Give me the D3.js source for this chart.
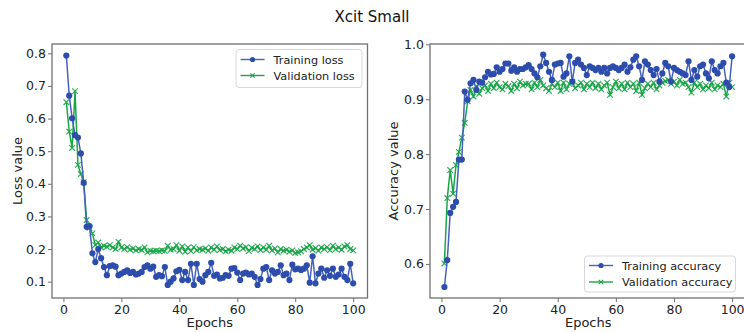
<!DOCTYPE html>
<html>
<head>
<meta charset="utf-8">
<script src="https://cdn.jsdelivr.net/npm/d3@7"></script>
<style>
  html, body { margin: 0; padding: 0; background: #fff; }
  svg { display: block; font-family: "DejaVu Sans", sans-serif; }
</style>
</head>
<body>
<svg id="chart" width="744" height="332"></svg>
<script>
// ---------------- data ----------------
const epochs = d3.range(1, 101);

const trainLoss = [
  0.793, 0.670, 0.601, 0.549, 0.542, 0.493, 0.403, 0.268, 0.270, 0.187,
  0.160, 0.200, 0.172, 0.145, 0.120, 0.148, 0.150, 0.146, 0.120, 0.125,
  0.130, 0.135, 0.127, 0.130, 0.122, 0.125, 0.130, 0.145, 0.150, 0.140,
  0.146, 0.115, 0.120, 0.117, 0.145, 0.090, 0.100, 0.110, 0.132, 0.136,
  0.105, 0.130, 0.105, 0.155, 0.090, 0.155, 0.108, 0.100, 0.120, 0.130,
  0.158, 0.118, 0.122, 0.110, 0.112, 0.120, 0.118, 0.140, 0.142, 0.128,
  0.105, 0.125, 0.128, 0.122, 0.125, 0.115, 0.090, 0.108, 0.140, 0.145,
  0.105, 0.135, 0.125, 0.130, 0.150, 0.120, 0.125, 0.105, 0.152, 0.138,
  0.140, 0.136, 0.140, 0.150, 0.097, 0.178, 0.095, 0.125, 0.140, 0.112,
  0.135, 0.118, 0.140, 0.115, 0.122, 0.140, 0.115, 0.105, 0.155, 0.095
];

const valLoss = [
  0.650, 0.560, 0.510, 0.684, 0.458, 0.430, 0.405, 0.289, 0.265, 0.248,
  0.212, 0.220, 0.205, 0.210, 0.207, 0.212, 0.205, 0.200, 0.222, 0.205,
  0.200, 0.206, 0.198, 0.202, 0.196, 0.200, 0.197, 0.205, 0.190, 0.195,
  0.193, 0.195, 0.194, 0.196, 0.194, 0.210, 0.198, 0.200, 0.212, 0.195,
  0.208, 0.192, 0.205, 0.194, 0.206, 0.196, 0.200, 0.198, 0.202, 0.195,
  0.205, 0.198, 0.208, 0.197, 0.200, 0.193, 0.198, 0.195, 0.205, 0.200,
  0.210, 0.202, 0.206, 0.194, 0.204, 0.200, 0.208, 0.197, 0.205, 0.198,
  0.210, 0.196, 0.202, 0.190, 0.200, 0.195, 0.198, 0.192, 0.196, 0.188,
  0.190, 0.193, 0.200, 0.205, 0.212, 0.198, 0.203, 0.195, 0.205, 0.200,
  0.206, 0.197, 0.210, 0.200, 0.205, 0.198, 0.208, 0.212, 0.200, 0.196
];

const trainAcc = [
  0.558, 0.607, 0.693, 0.704, 0.713, 0.790, 0.790, 0.914, 0.899, 0.929,
  0.935, 0.917, 0.932, 0.930, 0.940, 0.950, 0.945, 0.946, 0.958, 0.950,
  0.955, 0.965, 0.965, 0.952, 0.958, 0.950, 0.955, 0.955, 0.958, 0.962,
  0.955, 0.947, 0.940, 0.960, 0.981, 0.966, 0.950, 0.935, 0.963, 0.965,
  0.966, 0.941, 0.947, 0.978, 0.932, 0.966, 0.972, 0.963, 0.957, 0.944,
  0.960, 0.957, 0.953, 0.957, 0.950, 0.957, 0.947, 0.957, 0.960, 0.957,
  0.953, 0.957, 0.963, 0.950, 0.958, 0.972, 0.978, 0.960, 0.935, 0.969,
  0.963, 0.953, 0.944, 0.955, 0.932, 0.947, 0.966, 0.960, 0.932, 0.957,
  0.953, 0.950, 0.947, 0.944, 0.969, 0.935, 0.953, 0.941, 0.960, 0.963,
  0.947, 0.938, 0.969, 0.953, 0.947, 0.960, 0.966, 0.930, 0.922, 0.978
];

const valAcc = [
  0.601, 0.720, 0.771, 0.728, 0.780, 0.804, 0.830, 0.857, 0.896, 0.917,
  0.905, 0.923, 0.910, 0.920, 0.925, 0.915, 0.928, 0.920, 0.930, 0.922,
  0.918, 0.928, 0.924, 0.915, 0.928, 0.920, 0.932, 0.925, 0.928, 0.928,
  0.918, 0.930, 0.922, 0.935, 0.925, 0.920, 0.915, 0.928, 0.922, 0.930,
  0.915, 0.930, 0.918, 0.928, 0.932, 0.920, 0.925, 0.930, 0.918, 0.928,
  0.922, 0.930, 0.920, 0.928, 0.918, 0.925, 0.930, 0.908, 0.922, 0.932,
  0.920, 0.928, 0.918, 0.930, 0.922, 0.928, 0.915, 0.930, 0.908, 0.920,
  0.928, 0.922, 0.930, 0.918, 0.925, 0.930, 0.933, 0.935, 0.928, 0.932,
  0.925, 0.935, 0.928, 0.930, 0.922, 0.912, 0.930, 0.922, 0.928, 0.918,
  0.925, 0.920, 0.930, 0.918, 0.925, 0.922, 0.928, 0.905, 0.930, 0.922
];

const epochTicks = [0, 20, 40, 60, 80, 100];
const lossTicks = [0.1, 0.2, 0.3, 0.4, 0.5, 0.6, 0.7, 0.8];
const accTicks = [0.6, 0.7, 0.8, 0.9, 1.0];

const title = "Xcit Small";
const lossNames = ["Training loss", "Validation loss"];
const accNames = ["Training accuracy", "Validation accuracy"];

// ---------------- style ----------------
const BLUE = "#2d4dac";
const BLUE_LINE = "#4661bb";
const GREEN = "#1aa548";
const FRAME = "#707070";

const svg = d3.select("#chart");

svg.append("text")
  .attr("x", 372).attr("y", 22)
  .attr("text-anchor", "middle")
  .attr("font-size", 15)
  .attr("fill", "#111")
  .text(title);

function panel(opts) {
  const { x0, x1, y0, y1, yDomain, yTicks, yFmt, train, val, names, yLabel, labelX, legend } = opts;
  const x = d3.scaleLinear().domain([-3.95, 104.95]).range([x0, x1]);
  const y = d3.scaleLinear().domain(yDomain).range([y1, y0]);
  const g = svg.append("g");

  const clipId = "clip" + Math.round(x0);
  svg.append("clipPath").attr("id", clipId)
    .append("rect").attr("x", x0).attr("y", y0).attr("width", x1 - x0).attr("height", y1 - y0);

  const xAxis = d3.axisBottom(x).tickValues(epochTicks).tickSize(4).tickPadding(3).tickFormat(d3.format("d"));
  const yAxis = d3.axisLeft(y).tickValues(yTicks).tickSize(4).tickPadding(2).tickFormat(yFmt);

  const gx = g.append("g").attr("transform", `translate(0,${y1})`).call(xAxis);
  const gy = g.append("g").attr("transform", `translate(${x0},0)`).call(yAxis);
  [gx, gy].forEach(a => {
    a.select(".domain").remove();
    a.selectAll(".tick line").attr("stroke", FRAME).attr("stroke-width", 1);
    a.selectAll(".tick text").attr("font-size", 12.5).attr("fill", "#222")
      .attr("font-family", "DejaVu Sans, sans-serif");
  });

  const plot = g.append("g").attr("clip-path", `url(#${clipId})`);
  const line = d3.line().x((d, i) => x(epochs[i])).y(d => y(d));

  plot.append("path").datum(val).attr("d", line)
    .attr("fill", "none").attr("stroke", GREEN).attr("stroke-width", 1.5);
  const s = 2.8;
  plot.append("g").selectAll("path").data(val).join("path")
    .attr("d", (d, i) => {
      const cx = x(epochs[i]), cy = y(d);
      return `M${cx - s},${cy - s}L${cx + s},${cy + s}M${cx - s},${cy + s}L${cx + s},${cy - s}`;
    })
    .attr("stroke", GREEN).attr("stroke-width", 1.2).attr("stroke-opacity", 0.9);

  plot.append("path").datum(train).attr("d", line)
    .attr("fill", "none").attr("stroke", BLUE_LINE).attr("stroke-width", 1.5);
  plot.append("g").selectAll("circle").data(train).join("circle")
    .attr("cx", (d, i) => x(epochs[i])).attr("cy", d => y(d)).attr("r", 3.1)
    .attr("fill", BLUE);

  g.append("rect").attr("x", x0).attr("y", y0).attr("width", x1 - x0).attr("height", y1 - y0)
    .attr("fill", "none").attr("stroke", FRAME).attr("stroke-width", 1.3);

  g.append("text").attr("x", (x0 + x1) / 2).attr("y", 327)
    .attr("text-anchor", "middle").attr("font-size", 13).attr("fill", "#222").text("Epochs");
  g.append("text").attr("transform", `translate(${labelX},${(y0 + y1) / 2}) rotate(-90)`)
    .attr("text-anchor", "middle").attr("font-size", 13).attr("fill", "#222").text(yLabel);

  const L = legend;
  const lg = g.append("g");
  lg.append("rect").attr("x", L.x).attr("y", L.y).attr("width", L.w).attr("height", L.h)
    .attr("rx", 3).attr("fill", "#fff").attr("fill-opacity", 0.85)
    .attr("stroke", "#d8d8d8").attr("stroke-width", 1);
  const rows = [{ c: BLUE, lc: BLUE_LINE, m: "o", t: names[0] }, { c: GREEN, lc: GREEN, m: "x", t: names[1] }];
  rows.forEach((r, i) => {
    const ry = L.y + L.r0 + i * L.dy;
    const lx0 = L.x + 4.5, lx1 = lx0 + 24, mx = (lx0 + lx1) / 2;
    lg.append("line").attr("x1", lx0).attr("x2", lx1).attr("y1", ry).attr("y2", ry)
      .attr("stroke", r.lc).attr("stroke-width", 1.4);
    if (r.m === "o") {
      lg.append("circle").attr("cx", mx).attr("cy", ry).attr("r", 2.6).attr("fill", r.c);
    } else {
      const q = 2.2;
      lg.append("path").attr("d", `M${mx - q},${ry - q}L${mx + q},${ry + q}M${mx - q},${ry + q}L${mx + q},${ry - q}`)
        .attr("stroke", r.c).attr("stroke-width", 1.1);
    }
    lg.append("text").attr("x", lx1 + 9).attr("y", ry + 4)
      .attr("font-size", 11.3).attr("fill", "#222").text(r.t);
  });
}

panel({
  x0: 52, x1: 367.5, y0: 44, y1: 298,
  yDomain: [0.05, 0.8285], yTicks: lossTicks, yFmt: d3.format(".1f"),
  train: trainLoss, val: valLoss, names: lossNames,
  yLabel: "Loss value", labelX: 22,
  legend: { x: 236, y: 49.5, w: 126, h: 38, r0: 10, dy: 16 }
});

panel({
  x0: 430, x1: 746.5, y0: 44, y1: 298,
  yDomain: [0.538, 1.0005], yTicks: accTicks, yFmt: d3.format(".1f"),
  train: trainAcc, val: valAcc, names: accNames,
  yLabel: "Accuracy value", labelX: 398,
  legend: { x: 584.5, y: 256, w: 151, h: 36, r0: 9.5, dy: 16.5 }
});
</script>
</body>
</html>
